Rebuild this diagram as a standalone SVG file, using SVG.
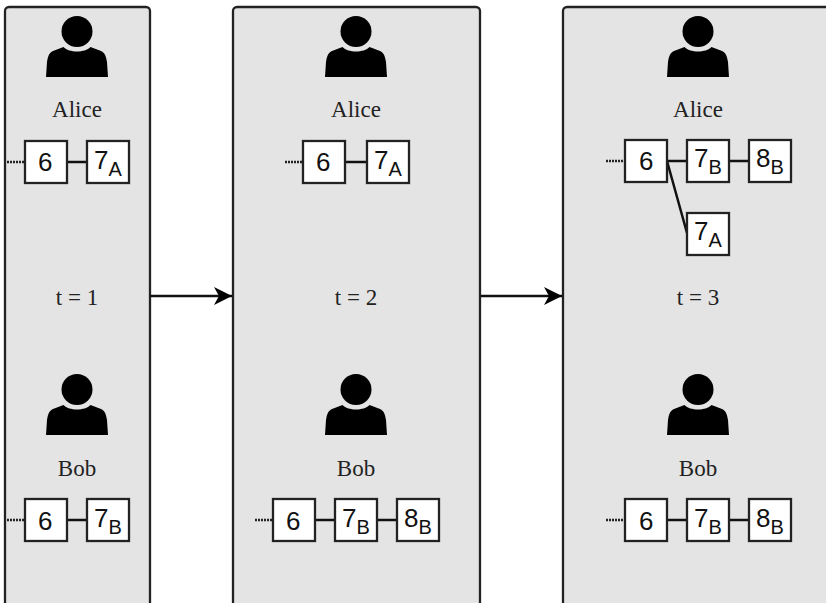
<svg xmlns="http://www.w3.org/2000/svg" width="826" height="603" viewBox="0 0 826 603">
<defs>
<marker id="arr" markerWidth="20" markerHeight="20" refX="18" refY="10" orient="auto" markerUnits="userSpaceOnUse"><path d="M0 1 L18 10 L0 19 L5 10 Z" fill="#000"/></marker>
<symbol id="person" overflow="visible"><circle cx="0" cy="31.5" r="15.5" fill="#000"/><path d="M-13.5 47 C-8 53 8 53 13.5 47 L24 51 C28 53 29 56 30 62 L31 77 L-31 77 L-30 62 C-29 56 -28 53 -24 51 Z" fill="#000"/></symbol>
</defs>
<style>
.panel{fill:#e4e4e4;stroke:#222;stroke-width:2.3}
.box{fill:#fff;stroke:#222;stroke-width:2.3}
.ln{stroke:#111;stroke-width:2.5;fill:none}
.dot{stroke:#222;stroke-width:2.3;stroke-dasharray:2 1;fill:none}
.lab{font-family:"Liberation Serif","Times New Roman",serif;font-size:23px;fill:#222;text-anchor:middle}
.n{font-family:"Liberation Sans",Arial,sans-serif;font-size:26px;fill:#111}
.s{font-size:20px}
</style>
<g id="panel1"><rect class="panel" x="5" y="7" width="145" height="610" rx="4"/><use href="#person" x="77"/><use href="#person" x="77" y="358"/>
<text class="lab" x="77" y="117">Alice</text><text class="lab" x="77" y="305">t = 1</text><text class="lab" x="77" y="476">Bob</text></g>
<g id="panel2"><rect class="panel" x="233" y="7" width="247" height="610" rx="4"/><use href="#person" x="356"/><use href="#person" x="356" y="358"/>
<text class="lab" x="356" y="117">Alice</text><text class="lab" x="356" y="305">t = 2</text><text class="lab" x="356" y="476">Bob</text></g>
<g id="panel3"><rect class="panel" x="563" y="7" width="270" height="610" rx="4"/><use href="#person" x="698"/><use href="#person" x="698" y="358"/>
<text class="lab" x="698" y="117">Alice</text><text class="lab" x="698" y="305">t = 3</text><text class="lab" x="698" y="476">Bob</text></g>
<g id="connectors">
<path class="ln" d="M150 296H232" marker-end="url(#arr)"/><path class="ln" d="M481 296H562" marker-end="url(#arr)"/>
<path class="dot" d="M7 162H25M285 162H303M255 520H273M606 161H625M7 520H25M606 520H625"/>
<path class="ln" d="M67 162H87M345 162H367M67 520H87M315 520H335M377 520H397M667 161H687M729 161H749M667 520H687M729 520H749M667 161L687 233"/>
</g>
<g id="a1-6"><rect class="box" x="25" y="141" width="42" height="42"/><text class="n" x="38" y="171">6</text></g>
<g id="a1-7a"><rect class="box" x="87" y="141" width="42" height="42"/><text class="n" x="94" y="169">7<tspan class="s" dy="7">A</tspan></text></g>
<g id="b1-6"><rect class="box" x="25" y="499" width="42" height="42"/><text class="n" x="38" y="530">6</text></g>
<g id="b1-7b"><rect class="box" x="87" y="499" width="42" height="42"/><text class="n" x="94" y="527">7<tspan class="s" dy="7">B</tspan></text></g>
<g id="a2-6"><rect class="box" x="303" y="141" width="42" height="42"/><text class="n" x="316" y="171">6</text></g>
<g id="a2-7a"><rect class="box" x="367" y="141" width="42" height="42"/><text class="n" x="374" y="169">7<tspan class="s" dy="7">A</tspan></text></g>
<g id="b2-6"><rect class="box" x="273" y="499" width="42" height="42"/><text class="n" x="286" y="530">6</text></g>
<g id="b2-7b"><rect class="box" x="335" y="499" width="42" height="42"/><text class="n" x="342" y="527">7<tspan class="s" dy="7">B</tspan></text></g>
<g id="b2-8b"><rect class="box" x="397" y="499" width="42" height="42"/><text class="n" x="404" y="527">8<tspan class="s" dy="7">B</tspan></text></g>
<g id="a3-6"><rect class="box" x="625" y="140" width="42" height="42"/><text class="n" x="639" y="170">6</text></g>
<g id="a3-7b"><rect class="box" x="687" y="140" width="42" height="42"/><text class="n" x="694" y="167">7<tspan class="s" dy="7">B</tspan></text></g>
<g id="a3-8b"><rect class="box" x="749" y="140" width="42" height="42"/><text class="n" x="756" y="167">8<tspan class="s" dy="7">B</tspan></text></g>
<g id="a3-7a"><rect class="box" x="687" y="213" width="42" height="42"/><text class="n" x="694" y="240">7<tspan class="s" dy="7">A</tspan></text></g>
<g id="b3-6"><rect class="box" x="625" y="499" width="42" height="42"/><text class="n" x="639" y="530">6</text></g>
<g id="b3-7b"><rect class="box" x="687" y="499" width="42" height="42"/><text class="n" x="694" y="527">7<tspan class="s" dy="7">B</tspan></text></g>
<g id="b3-8b"><rect class="box" x="749" y="499" width="42" height="42"/><text class="n" x="756" y="527">8<tspan class="s" dy="7">B</tspan></text></g>
</svg>
